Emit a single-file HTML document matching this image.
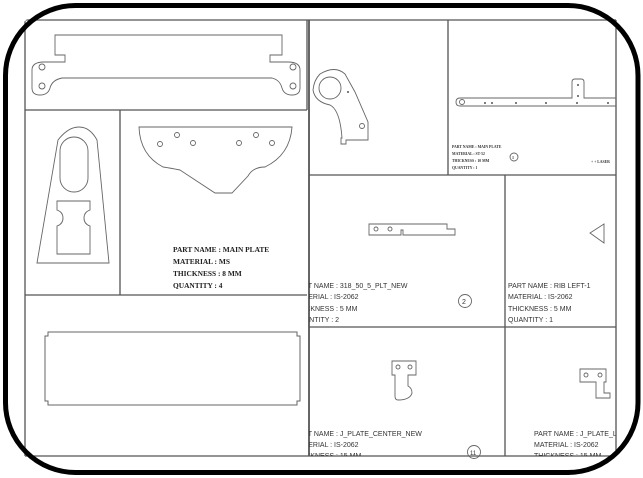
<!DOCTYPE html>
<html><head><meta charset="utf-8"><style>
html,body{margin:0;padding:0;background:#fff;}
svg{display:block;}
</style></head><body>
<svg width="643" height="478" viewBox="0 0 643 478" xmlns="http://www.w3.org/2000/svg">
<defs>
<clipPath id="cA"><rect x="309" y="175" width="196" height="152"/></clipPath>
<clipPath id="cB"><rect x="309" y="327" width="196" height="129"/></clipPath>
<clipPath id="cC"><rect x="505" y="327" width="111" height="129"/></clipPath>
<clipPath id="cD"><rect x="448" y="20" width="168" height="155"/></clipPath>
</defs>
<rect width="643" height="478" fill="#fff"/>
<g fill="none" stroke="#555" stroke-width="1.3">
<line x1="25" y1="20" x2="616" y2="20"/>
<line x1="25" y1="20" x2="25" y2="456"/>
<line x1="25" y1="456" x2="616" y2="456"/>
<line x1="616" y1="20" x2="616" y2="456"/>
<line x1="307" y1="20" x2="307" y2="110"/>
<line x1="25" y1="110" x2="307" y2="110"/>
<line x1="120" y1="110" x2="120" y2="295"/>
<line x1="25" y1="295" x2="307" y2="295"/>
<line x1="309" y1="20" x2="309" y2="456" stroke-width="1.8"/>
<line x1="448" y1="20" x2="448" y2="175"/>
<line x1="309" y1="175" x2="616" y2="175"/>
<line x1="505" y1="175" x2="505" y2="456"/>
<line x1="309" y1="327" x2="616" y2="327"/>
</g>
<g fill="none" stroke="#666" stroke-width="0.9">
<path d="M55,35 H282 V55 H270 V62 H288 Q300,62 300,70 V88 Q300,95 292,95 Q284,95 282,88 Q280,80 272,78 H62 Q52,80 50,88 Q48,95 40,95 Q32,95 32,88 V70 Q32,62 44,62 H65 V55 H55 Z"/>
<circle cx="42" cy="67" r="3"/><circle cx="42" cy="86" r="3"/>
<circle cx="293" cy="67" r="3"/><circle cx="293" cy="86" r="3"/>
<path d="M37,263 L58,140 Q68,127 79,127 Q90,127 97,140 L109,263 Z"/>
<rect x="60" y="137" width="28" height="55" rx="14"/>
<path d="M57,201 H90 V210 Q84,212 84,218 Q84,224 90,226 V254 H57 V226 Q63,224 63,218 Q63,212 57,210 Z"/>
<path d="M139,127 H292 Q290,155 265,167 Q253,167 248,176 L232,193 H215 L180,170 Q170,168 163,167 Q140,155 139,127 Z"/>
<circle cx="160" cy="144" r="2.5"/><circle cx="177" cy="135" r="2.5"/><circle cx="193" cy="143" r="2.5"/>
<circle cx="239" cy="143" r="2.5"/><circle cx="256" cy="135" r="2.5"/><circle cx="272" cy="143" r="2.5"/>
<path d="M48,332 H297 V336 H300 V401 H297 V405 H48 V401 H45 V336 H48 Z" stroke-width="1"/>
<path d="M320,74 Q335,65 345,74 L355,92 L368,122 V140 H346 V144 H341 V138 H342 Q340,110 330,105 Q315,102 313,90 Q314,80 320,74 Z"/>
<circle cx="330" cy="88" r="11"/>
<circle cx="362" cy="126" r="2.5"/>
<g clip-path="url(#cD)">
<path d="M460,98 H572 V82 Q572,79 575,79 H581 Q584,79 584,82 V98 H620 V106 H460 Q456,106 456,102 Q456,98 460,98 Z"/>
<circle cx="462" cy="102" r="2.5"/>
</g>
<circle cx="514" cy="157" r="4"/>
<path d="M369,224 H447 V229 H455 V235 H403 V230 H401 V235 H369 Z"/>
<circle cx="376" cy="229" r="2"/><circle cx="390" cy="229" r="2"/>
<path d="M604,224 L590,233 L604,243 Z"/>
<circle cx="465" cy="301" r="6.5"/>
<path d="M392,361 H416 V375 H408 V386 Q412,388 412,393 Q410,400 398,400 Q395,400 395,396 V375 H392 Z"/>
<circle cx="398" cy="367" r="2"/><circle cx="410" cy="367" r="2"/>
<path d="M580,369 H606 V382 H604 V393 H610 V398 H596 V382 H580 Z"/>
<circle cx="586" cy="375" r="2"/><circle cx="600" cy="375" r="2"/>
<circle cx="474" cy="452" r="6.5"/>
</g>
<g fill="#555">
<circle cx="485" cy="103" r="1"/><circle cx="492" cy="103" r="1"/><circle cx="516" cy="103" r="1"/><circle cx="546" cy="103" r="1"/><circle cx="577" cy="103" r="1"/><circle cx="608" cy="103" r="1"/><circle cx="578" cy="85" r="1"/><circle cx="578" cy="96" r="1"/><circle cx="348" cy="92" r="1"/>
</g>
<g font-family="Liberation Serif, serif" font-weight="bold" font-size="7.4" fill="#222">
<text x="173" y="252">PART NAME : MAIN PLATE</text>
<text x="173" y="264">MATERIAL :  MS</text>
<text x="173" y="276">THICKNESS : 8 MM</text>
<text x="173" y="288">QUANTITY :  4</text>
</g>
<g font-family="Liberation Serif, serif" font-weight="bold" font-size="3.8" fill="#333">
<text x="452" y="148">PART NAME : MAIN PLATE</text>
<text x="452" y="155">MATERIAL : ST-52</text>
<text x="452" y="162">THICKNESS : 10 MM</text>
<text x="452" y="169">QUANTITY : 1</text>
<text x="591" y="163">+ + LASER</text>
<text x="512" y="159" font-size="4">1</text>
</g>
<g font-family="Liberation Sans, sans-serif" font-size="7" fill="#333">
<g clip-path="url(#cA)">
<text x="294" y="288">PART NAME : 318_50_5_PLT_NEW</text>
<text x="294" y="299">MATERIAL : IS-2062</text>
<text x="294" y="311">THICKNESS : 5 MM</text>
<text x="294" y="322">QUANTITY : 2</text>
</g>
<text x="462" y="304">2</text>
<text x="508" y="288">PART NAME : RIB LEFT-1</text>
<text x="508" y="299">MATERIAL :  IS-2062</text>
<text x="508" y="311">THICKNESS : 5 MM</text>
<text x="508" y="322">QUANTITY :  1</text>
<g clip-path="url(#cB)">
<text x="294" y="436">PART NAME : J_PLATE_CENTER_NEW</text>
<text x="294" y="447">MATERIAL : IS-2062</text>
<text x="294" y="458">THICKNESS : 15 MM</text>
</g>
<text x="470" y="455" font-size="6">11</text>
<g clip-path="url(#cC)">
<text x="534" y="436">PART NAME : J_PLATE_LEFT</text>
<text x="534" y="447">MATERIAL : IS-2062</text>
<text x="534" y="458">THICKNESS : 15 MM</text>
</g>
</g>
<path d="M0,0 H643 V478 H0 Z M75,5.5 Q5.5,5.5 5.5,75 V403 Q5.5,472.5 75,472.5 H568 Q638,472.5 638,403 V75 Q638,5.5 568,5.5 Z" fill="#fff" fill-rule="evenodd"/>
<rect x="5.5" y="5.5" width="632.5" height="467" rx="70" ry="70" fill="none" stroke="#000" stroke-width="5"/>
</svg>
</body></html>
